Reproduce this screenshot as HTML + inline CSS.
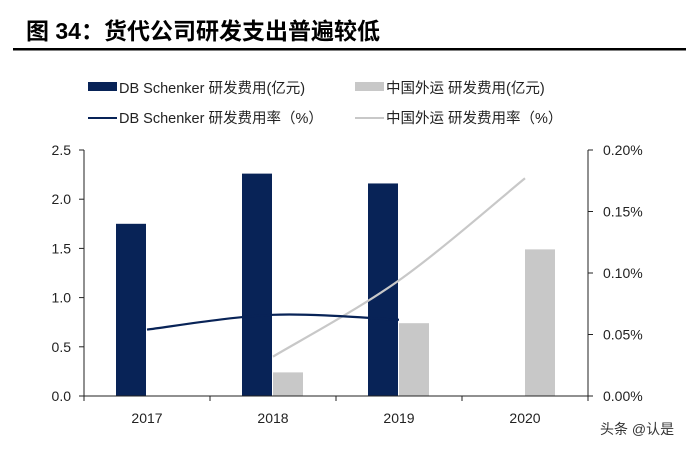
<!DOCTYPE html>
<html><head><meta charset="utf-8"><style>
body{margin:0;background:#fff;width:686px;height:451px;overflow:hidden;font-family:"Liberation Sans","Noto Sans CJK SC",sans-serif;}
</style></head><body>
<svg id="c" width="686" height="451" xmlns="http://www.w3.org/2000/svg" font-family="Liberation Sans, Noto Sans CJK SC, sans-serif">
<text x="26" y="39" font-size="23" font-weight="bold" fill="#000">图 34：货代公司研发支出普遍较低</text>
<rect x="13" y="48" width="673" height="2.5" fill="#000"/>
<g font-size="14.5" fill="#222">
<rect x="88" y="82" width="29" height="9" fill="#082357"/>
<text x="119" y="93">DB  Schenker 研发费用(亿元)</text>
<rect x="355" y="82" width="29" height="9" fill="#c8c8c8"/>
<text x="386" y="93">中国外运 研发费用(亿元)</text>
<rect x="88" y="117" width="29" height="2" fill="#082357"/>
<text x="119" y="123">DB  Schenker 研发费用率（%）</text>
<rect x="355" y="117" width="29" height="2" fill="#c8c8c8"/>
<text x="386" y="123">中国外运 研发费用率（%）</text>
</g>
<g id="plot"></g>
<text x="600" y="434" font-size="14" fill="#333">头条 @认是</text>
</svg>
<script>
const categories=["2017","2018","2019","2020"];
const dbExpense=[1.75,2.26,2.16,null];
const sinoExpense=[null,0.24,0.74,1.49];
const dbRate=[0.054,0.066,0.062,null];
const sinoRate=[null,0.032,0.094,0.177];
const leftTicks=[0,0.5,1.0,1.5,2.0,2.5];
const leftTickLabels=["0.0","0.5","1.0","1.5","2.0","2.5"];
const rightTicks=[0,0.05,0.10,0.15,0.20];
const rightTickLabels=["0.00%","0.05%","0.10%","0.15%","0.20%"];

const NS="http://www.w3.org/2000/svg";
const g=document.getElementById('plot');
const X0=84,X1=588,Y0=396,Y1=150;
const band=(X1-X0)/categories.length;
const xc=i=>X0+band*(i+0.5);
const yL=v=>Y0-(v/2.5)*(Y0-Y1);
const yR=v=>Y0-(v/0.20)*(Y0-Y1);
function mk(t,a){const e=document.createElementNS(NS,t);for(const k in a)e.setAttribute(k,a[k]);g.appendChild(e);return e;}
const bw=30;
dbExpense.forEach((v,i)=>{if(v==null)return;
 const r=mk('rect',{x:xc(i)-bw-1,y:yL(v),width:bw,height:Y0-yL(v),fill:'#082357'});
 
 });
sinoExpense.forEach((v,i)=>{if(v==null)return;
 const r=mk('rect',{x:xc(i),y:yL(v),width:bw,height:Y0-yL(v),fill:'#c8c8c8'});
 
 });
function smooth(pts){let d='M'+pts[0][0]+','+pts[0][1];
 for(let i=0;i<pts.length-1;i++){const p0=pts[i-1]||pts[i],p1=pts[i],p2=pts[i+1],p3=pts[i+2]||p2;
  const c1=[p1[0]+(p2[0]-p0[0])/6,p1[1]+(p2[1]-p0[1])/6],c2=[p2[0]-(p3[0]-p1[0])/6,p2[1]-(p3[1]-p1[1])/6];
  d+=' C'+c1+' '+c2+' '+p2;}return d;}
function line(arr,color,name){const pts=[];arr.forEach((v,i)=>{if(v!=null)pts.push([xc(i),yR(v)]);});
 const p=mk('path',{d:smooth(pts),fill:'none',stroke:color,'stroke-width':2.2});
 
 }
line(sinoRate,'#c8c8c8','line-sino-rate');
line(dbRate,'#082357','line-db-rate');
// axes
let a=mk('line',{x1:X0,y1:Y1,x2:X0,y2:Y0,stroke:'#222','stroke-width':1});

a=mk('line',{x1:X1,y1:Y1,x2:X1,y2:Y0,stroke:'#222','stroke-width':1});

a=mk('line',{x1:X0,y1:Y0,x2:X1,y2:Y0,stroke:'#222','stroke-width':1});

leftTicks.forEach((v,i)=>{mk('line',{x1:X0-5,y1:yL(v),x2:X0,y2:yL(v),stroke:'#222'});
 const t=mk('text',{x:X0-13,y:yL(v)+5,'font-size':14,'text-anchor':'end',fill:'#222'});t.textContent=leftTickLabels[i];
 
 });
rightTicks.forEach((v,i)=>{mk('line',{x1:X1,y1:yR(v),x2:X1+5,y2:yR(v),stroke:'#222'});
 const t=mk('text',{x:X1+15,y:yR(v)+5,'font-size':14,fill:'#222'});t.textContent=rightTickLabels[i];
 
 });
for(let i=0;i<=categories.length;i++)mk('line',{x1:X0+band*i,y1:Y0,x2:X0+band*i,y2:Y0+5,stroke:'#222'});
categories.forEach((c,i)=>{const t=mk('text',{x:xc(i),y:423,'font-size':14,'text-anchor':'middle',fill:'#222'});t.textContent=c;
 
 });
</script>
</body></html>
